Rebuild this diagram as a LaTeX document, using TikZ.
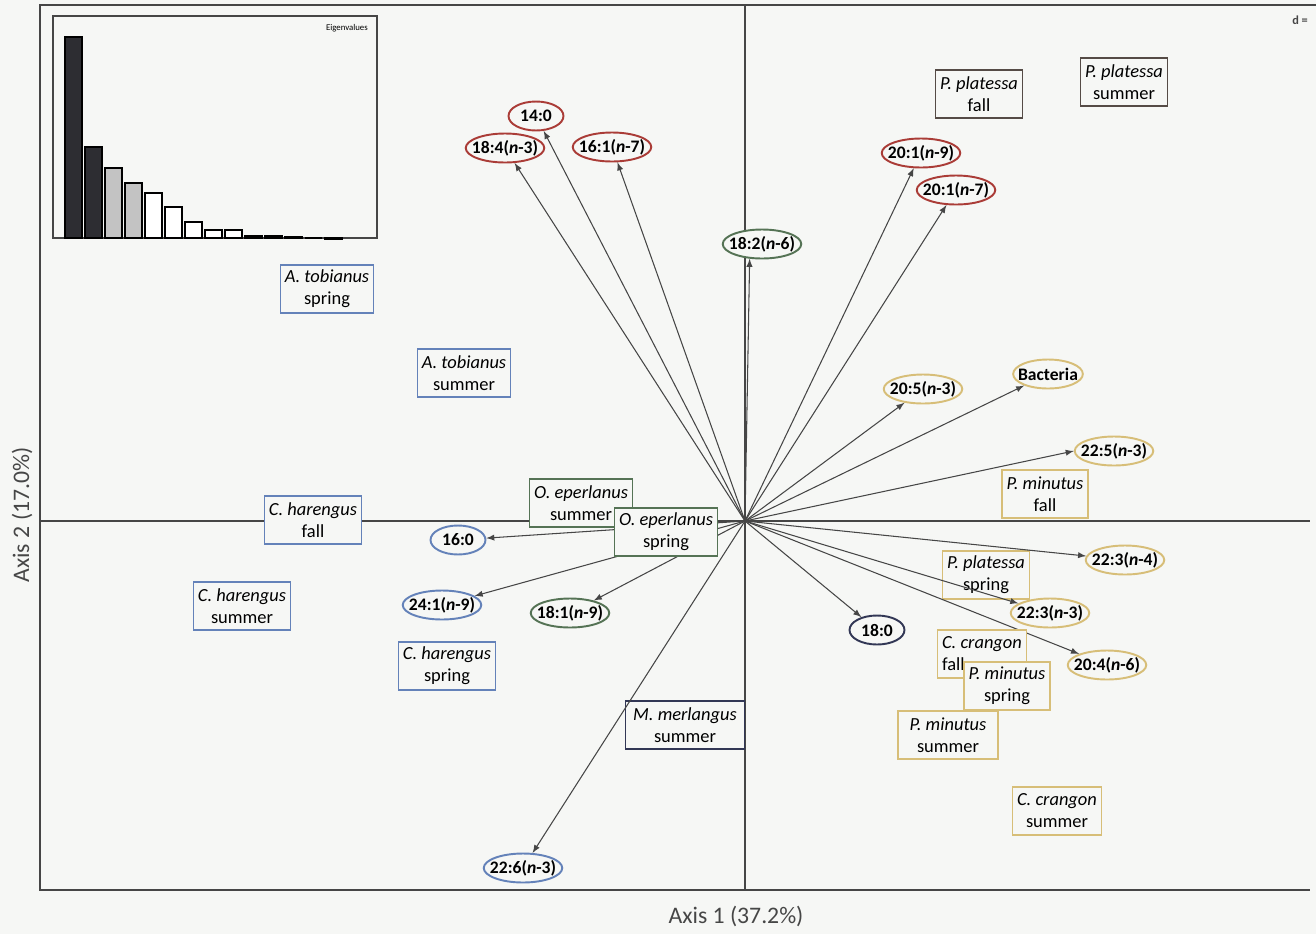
\documentclass[tikz,border=0pt]{standalone}
\usepackage{fontspec}
\setmainfont{Carlito}
\usetikzlibrary{shapes.geometric}
\definecolor{bgpaper}{RGB}{246,247,245}
\definecolor{faRed}{RGB}{170,60,55}
\definecolor{faGreen}{RGB}{85,115,85}
\definecolor{faBlue}{RGB}{100,130,185}
\definecolor{faGold}{RGB}{215,190,120}
\definecolor{faNavy}{RGB}{50,55,85}
\definecolor{faTaupe}{RGB}{85,75,70}
\definecolor{axisgray}{RGB}{70,70,70}
\definecolor{bardark}{RGB}{45,45,50}
\definecolor{barlight}{RGB}{195,195,195}
\tikzset{>=latex}
\tikzset{fa/.style={ellipse, draw=#1, line width=1.1pt, fill=bgpaper, inner xsep=-3pt, inner ysep=0.8pt, minimum width=1.1cm, minimum height=0.58cm, font=\fontsize{10}{11}\selectfont\bfseries}}
\tikzset{sp/.style={rectangle, draw=#1, line width=0.9pt, fill=bgpaper, align=center, inner xsep=2.5pt, inner ysep=2pt, minimum height=0.96cm, font=\fontsize{10.5}{12.5}\selectfont}}
\tikzset{load/.style={->, draw=axisgray, line width=0.6pt}}

\begin{document}
\begin{tikzpicture}[x=0.02cm,y=-0.02cm]
      \useasboundingbox[fill=bgpaper] (0,0) rectangle (1316,934);
      \coordinate (o) at (745,521);
      \draw[axisgray, line width=0.8pt] (1316,5) -- (40,5) -- (40,890) -- (1310,890);
      \draw[axisgray, line width=0.8pt] (40,521) -- (1310,521);
      \draw[axisgray, line width=0.8pt] (745,5) -- (745,890);
      % eigenvalue inset
      \draw[fill=bgpaper, draw=axisgray, line width=0.7pt] (53,16) rectangle (377,238);
      \foreach \bartop/\barcol [count=\i] in {37/bardark,147/bardark,168/barlight,183/barlight,193/white,207/white,222/white,230/white,230/white,236/white,236/white,237/white,238/white,239/white}
        \draw[fill=\barcol, line width=0.6pt] ({65+(\i-1)*20},238) rectangle ({82+(\i-1)*20},\bartop);
      \node[anchor=north east, font=\fontsize{5}{6}\selectfont] (eig) at (374,18) {Eigenvalues};
      \node[anchor=east, font=\fontsize{7}{8}\selectfont\bfseries, text=axisgray] (dlab) at (1314,20) {d =};
      % fatty acids
      \node[fa=faRed] (f140) at (536,116) {14:0};
      \node[fa=faRed] (f184) at (505,148) {18:4(\textit{n}-3)};
      \node[fa=faRed] (f161) at (612,147) {16:1(\textit{n}-7)};
      \node[fa=faRed] (f201a) at (921,153) {20:1(\textit{n}-9)};
      \node[fa=faRed] (f201b) at (956,190) {20:1(\textit{n}-7)};
      \node[fa=faGreen] (f182) at (762,244) {18:2(\textit{n}-6)};
      \node[fa=faGreen] (f181) at (570,613) {18:1(\textit{n}-9)};
      \node[fa=faBlue] (f160) at (458,540) {16:0};
      \node[fa=faBlue] (f241) at (442,605) {24:1(\textit{n}-9)};
      \node[fa=faBlue] (f226) at (523,868) {22:6(\textit{n}-3)};
      \node[fa=faNavy] (f180) at (877,630) {18:0};
      \node[fa=faGold] (f205) at (923,389) {20:5(\textit{n}-3)};
      \node[fa=faGold] (bact) at (1048,374) {Bacteria};
      \node[fa=faGold] (f225) at (1114,451) {22:5(\textit{n}-3)};
      \node[fa=faGold] (f223a) at (1125,560) {22:3(\textit{n}-4)};
      \node[fa=faGold] (f223b) at (1050,613) {22:3(\textit{n}-3)};
      \node[fa=faGold] (f204) at (1107,665) {20:4(\textit{n}-6)};
      % species and seasons
      \node[sp=faBlue] (ATsp) at (327,289) {\textit{A. tobianus}\\spring};
      \node[sp=faBlue] (ATsu) at (464,373) {\textit{A. tobianus}\\summer};
      \node[sp=faBlue] (CHfa) at (313,520) {\textit{C. harengus}\\fall};
      \node[sp=faBlue] (CHsu) at (242,606) {\textit{C. harengus}\\summer};
      \node[sp=faBlue] (CHsp) at (447,666) {\textit{C. harengus}\\spring};
      \node[sp=faGreen] (OEsu) at (581,503) {\textit{O. eperlanus}\\summer};
      \node[sp=faNavy, minimum width=2.38cm] (MMsu) at (685,725) {\textit{M. merlangus}\\summer};
      \node[sp=faTaupe] (PPfa) at (979,94) {\textit{P. platessa}\\fall};
      \node[sp=faTaupe] (PPsu) at (1124,82) {\textit{P. platessa}\\summer};
      \node[sp=faGold] (PPsp) at (986,575) {\textit{P. platessa}\\spring};
      \node[sp=faGold] (PMfa) at (1045,494) {\textit{P. minutus}\\fall};
      \node[sp=faGold, minimum width=2cm] (PMsu) at (948,735) {\textit{P. minutus}\\summer};
      \node[sp=faGold] (CCsu) at (1057,811) {\textit{C. crangon}\\summer};
      \foreach \n in {f140,f184,f161,f182.230,f201a,f201b,f205,bact,f225.west,f223a,f223b,f204,f180,f226,f181,f241,f160}
        \draw[load] (o) -- (\n);
      \node[sp=faGreen] (OEsp) at (666,532) {\textit{O. eperlanus}\\spring};
      \node[sp=faGold, align=left] (CCfa) at (982,654) {\textit{C. crangon}\\fall};
      \node[sp=faGold] (PMsp) at (1007,686) {\textit{P. minutus}\\spring};
      % axis titles
      \node[font=\fontsize{13.5}{15}\selectfont, text=axisgray] (ax1) at (736,916) {Axis 1 (37.2\%)};
      \node[rotate=90, font=\fontsize{13.5}{15}\selectfont, text=axisgray] (ax2) at (22,515) {Axis 2 (17.0\%)};
\end{tikzpicture}
\end{document}
